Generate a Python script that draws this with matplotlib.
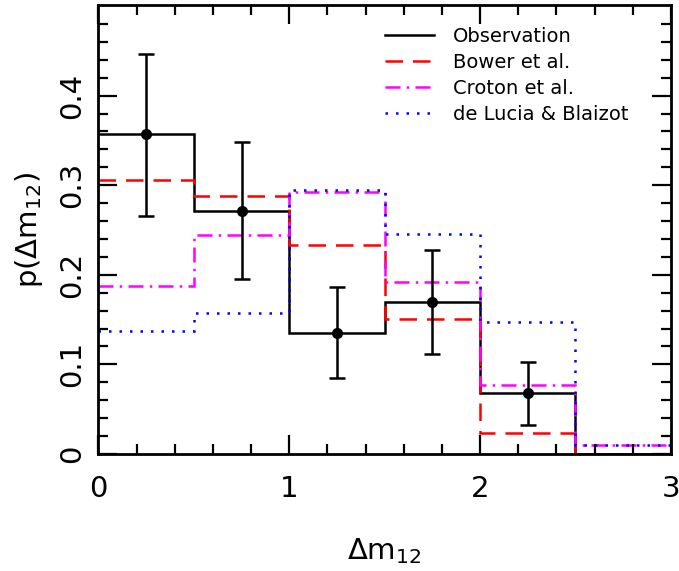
import numpy as np
import matplotlib.pyplot as plt

# bin edges in delta m_12 and measured / model probabilities
edges = np.array([0.0, 0.5, 1.0, 1.5, 2.0, 2.5, 3.0])
centres = np.array([0.25, 0.75, 1.25, 1.75, 2.25])

obs = [0.357, 0.271, 0.135, 0.170, 0.068, 0.0]
obs_pts = [0.357, 0.271, 0.135, 0.170, 0.068]
obs_hi = [0.447, 0.348, 0.186, 0.228, 0.103]
obs_lo = [0.266, 0.195, 0.085, 0.112, 0.032]

bower = [0.306, 0.288, 0.233, 0.151, 0.023, 0.0]
croton = [0.187, 0.244, 0.292, 0.192, 0.077, 0.010]
delucia = [0.137, 0.157, 0.295, 0.245, 0.147, 0.010]

plt.rcParams['font.family'] = 'DejaVu Sans'

fig = plt.figure(figsize=(6.79, 5.71), dpi=100)
ax = fig.add_axes([0.145, 0.205, 0.843, 0.786])

lw = 1.8
ax.stairs(obs, edges, baseline=None, color='k', lw=lw, label='Observation')
ax.stairs(bower, edges, baseline=None, color='red', lw=lw, linestyle=(0, (7, 4)), label='Bower et al.')
ax.stairs(croton, edges, baseline=None, color='magenta', lw=lw, linestyle=(0, (6, 2.5, 1, 2.5)), label='Croton et al.')
ax.stairs(delucia, edges, baseline=None, color='blue', lw=lw, linestyle=(0, (1, 3.2)), label='de Lucia & Blaizot')

yerr = [np.array(obs_pts) - np.array(obs_lo), np.array(obs_hi) - np.array(obs_pts)]
ax.errorbar(centres, obs_pts, yerr=yerr, fmt='o', color='k', ms=7, capsize=6, elinewidth=lw, capthick=lw)

ax.set_xlim(0, 3)
ax.set_ylim(0, 0.501)
ax.set_xticks([0, 1, 2, 3])
ax.set_xticks(np.arange(0, 3.01, 0.2), minor=True)
ax.set_yticks([0, 0.1, 0.2, 0.3, 0.4])
ax.set_yticklabels(['0', '0.1', '0.2', '0.3', '0.4'], rotation=90, va='center')
ax.set_yticks(np.arange(0, 0.5, 0.02), minor=True)
ax.tick_params(which='both', direction='in', top=True, right=True, width=1.6, labelsize=21)
ax.tick_params(which='major', length=14)
ax.tick_params(axis='x', which='major', pad=15)
ax.tick_params(axis='y', which='major', pad=9)
ax.tick_params(which='minor', length=7)
for s in ax.spines.values():
    s.set_linewidth(2)

ax.set_xlabel(r'$\Delta$m$_{12}$', fontsize=21, labelpad=24)
ax.set_ylabel(r'p($\Delta$m$_{12}$)', fontsize=21, labelpad=9)

ax.legend(loc='upper right', bbox_to_anchor=(0.957, 0.99), frameon=False, fontsize=14,
          handlelength=2.5, handletextpad=1.0, labelspacing=0.35)

fig.savefig('out.png', dpi=100)
